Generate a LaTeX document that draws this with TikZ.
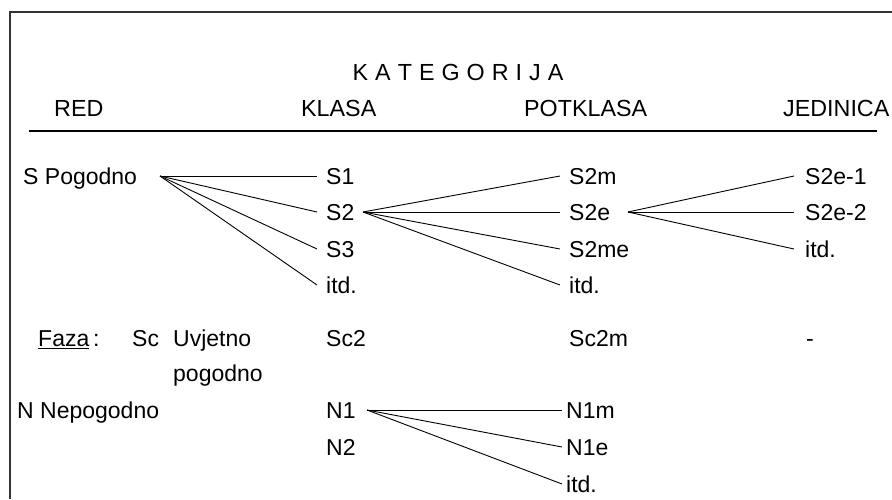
\documentclass[tikz,border=0pt]{standalone}
\usepackage{fontspec}
\setmainfont{Liberation Sans}
\begin{document}
\begin{tikzpicture}[x=1pt,y=-1pt,
  lbl/.style={anchor=west, inner sep=0pt, text height=16.5pt, text depth=0pt,
              font=\fontsize{23}{28}\selectfont},
  hdr/.style={anchor=west, inner sep=0pt, text height=16.7pt, text depth=0pt,
              font=\fontsize{23.3}{28}\selectfont},
  link/.style={draw=black, line width=0.9pt},
  frame/.style={draw=black!80, line width=1.3pt}]
\useasboundingbox (0,0) rectangle (892,499);
% frame
\draw[frame] (10,499) -- (10,12) -- (892,12);
% title and headers
\node[hdr, anchor=center] (kat) at (458,72) {K\kern7pt A\kern7pt T\kern7pt E\kern7pt G\kern7pt O\kern7pt R\kern7pt I\kern7pt J\kern7pt A};
\node[hdr] (hred) at (54,108) {RED};
\node[hdr] (hkl) at (301,108) {KLASA};
\node[hdr] (hpk) at (524,108) {POTKLASA};
\node[hdr] (hjd) at (783,108) {JEDINICA};
\draw[line width=1.5pt] (29,131) -- (877,131);
% S branch
\node[lbl] (sp) at (23,176) {S Pogodno};
\coordinate (jS) at (160,176);
\node[lbl] (s1) at (326,176) {S1};
\node[lbl] (s2) at (326,212) {S2};
\node[lbl] (s3) at (326,249) {S3};
\node[lbl] (sx) at (326,285) {itd.};
\foreach \t in {s1,s2,s3,sx} \draw[link] (jS) -- ([xshift=-9pt]\t.west);
\coordinate (jS2) at (363,212);
\node[lbl] (s2m) at (569,176) {S2m};
\node[lbl] (s2e) at (569,212) {S2e};
\node[lbl] (s2me) at (569,249) {S2me};
\node[lbl] (s2x) at (569,285) {itd.};
\foreach \t in {s2m,s2e,s2me,s2x} \draw[link] (jS2) -- ([xshift=-9pt]\t.west);
\coordinate (jS2e) at (628,212);
\node[lbl] (e1) at (805,176) {S2e-1};
\node[lbl] (e2) at (805,212) {S2e-2};
\node[lbl] (ex) at (805,249) {itd.};
\foreach \t in {e1,e2,ex} \draw[link] (jS2e) -- ([xshift=-11pt]\t.west);
% Faza row
\node[lbl] (faza) at (38,338) {\underline{Faza}\,:};
\node[lbl] (sc) at (132,338) {Sc};
\node[lbl] (uv) at (173,338) {Uvjetno};
\node[lbl] (pg) at (173,373) {pogodno};
\node[lbl] (sc2) at (326,338) {Sc2};
\node[lbl] (sc2m) at (569,338) {Sc2m};
\node[lbl] (dash) at (806,338) {-};
% N branch
\node[lbl] (np) at (17,410) {N Nepogodno};
\node[lbl] (n1) at (326,410) {N1};
\node[lbl] (n2) at (326,447) {N2};
\coordinate (jN1) at (367,410);
\node[lbl] (n1m) at (566,410) {N1m};
\node[lbl] (n1e) at (566,447) {N1e};
\node[lbl] (n1x) at (566,484) {itd.};
\foreach \t in {n1m,n1e,n1x} \draw[link] (jN1) -- ([xshift=-4pt]\t.west);
\end{tikzpicture}
\end{document}
